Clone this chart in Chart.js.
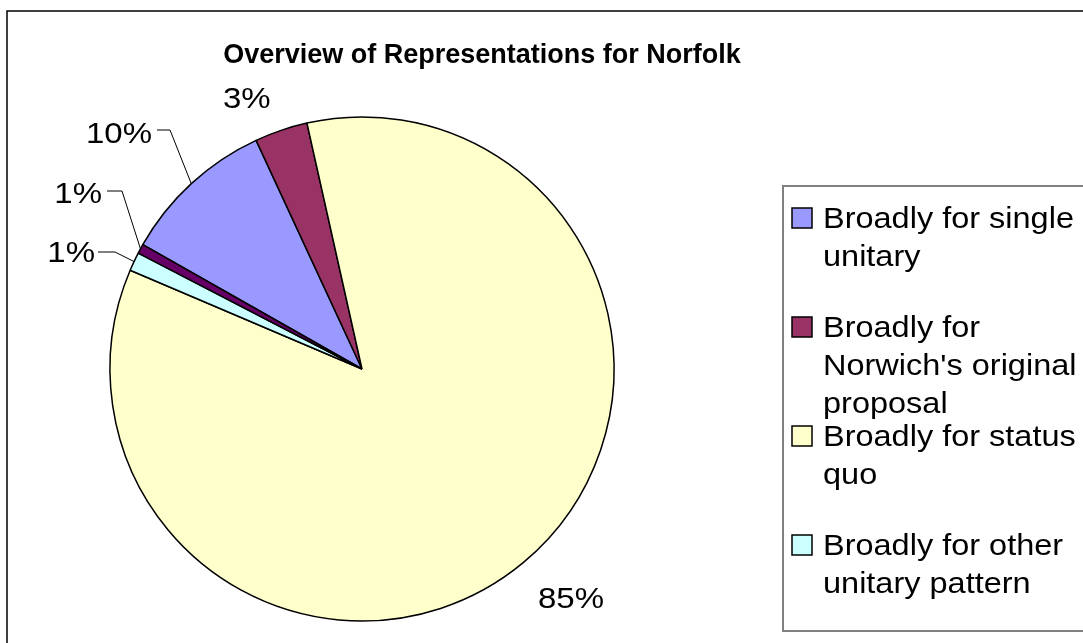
<!DOCTYPE html>
<html>
<head>
<meta charset="utf-8">
<title>Overview of Representations for Norfolk</title>
<script src="https://cdn.jsdelivr.net/npm/chart.js@4/dist/chart.umd.min.js"></script>
<style>
  html, body { margin: 0; padding: 0; background: #fff; }
  #wrap { width: 1083px; height: 643px; position: relative; }
</style>
</head>
<body>
<div id="wrap"><canvas id="myChart" width="1083" height="643"></canvas></div>
<script>
// chart data
var chartTitle = "Overview of Representations for Norfolk";
var categories = ["Broadly for single unitary", "Broadly for Norwich's original proposal",
                  "Broadly for status quo", "Broadly for other unitary pattern", "Other views"];
var legendLines = [["Broadly for single", "unitary"],
                   ["Broadly for", "Norwich's original", "proposal"],
                   ["Broadly for status", "quo"],
                   ["Broadly for other", "unitary pattern"],
                   ["Other views"]];
var shares = [9.9, 3.4, 85.0, 1.2, 0.6];
var sliceColors = ["#9999FF", "#993366", "#FFFFCC", "#CCFFFF", "#660066"];

// where the percent labels sit (style only)
var labelPos = [
  { x: 152, y: 143, align: "right", leader: [[157, 130], [170, 130]] },
  { x: 223, y: 108, align: "left" },
  { x: 538, y: 608, align: "left" },
  { x: 95,  y: 262, align: "right", leader: [[98, 252], [115, 252]] },
  { x: 102, y: 203, align: "right", leader: [[107, 191], [122, 191]] }
];

var FONT = "'Liberation Sans', Arial, sans-serif";

function scaledText(ctx, text, x, y, sx, align) {
  ctx.save();
  ctx.translate(x, y);
  ctx.scale(sx, 1);
  ctx.textAlign = align;
  ctx.fillText(text, 0, 0);
  ctx.restore();
}

var decorPlugin = {
  id: "decor",
  afterDraw: function(chart) {
    var ctx = chart.ctx;
    var meta = chart.getDatasetMeta(0);
    var data = chart.data.datasets[0].data;
    var total = data.reduce(function(a, b) { return a + b; }, 0);

    ctx.save();
    // outer frame
    ctx.strokeStyle = "#000";
    ctx.lineWidth = 1.5;
    ctx.beginPath();
    ctx.moveTo(7, 660);
    ctx.lineTo(7, 11);
    ctx.lineTo(1100, 11);
    ctx.stroke();

    // title
    ctx.fillStyle = "#000";
    ctx.font = "bold 27px " + FONT;
    ctx.textBaseline = "alphabetic";
    ctx.textAlign = "center";
    ctx.fillText(chartTitle, 482, 63);

    // percent labels and leaders
    ctx.font = "30px " + FONT;
    meta.data.forEach(function(arc, i) {
      var p = labelPos[i];
      var pct = Math.round(data[i] / total * 100) + "%";
      scaledText(ctx, pct, p.x, p.y, 1.1, p.align);
      if (p.leader) {
        var mid = (arc.startAngle + arc.endAngle) / 2;
        var ex = arc.x + Math.cos(mid) * arc.outerRadius;
        var ey = arc.y + Math.sin(mid) * arc.outerRadius;
        ctx.strokeStyle = "#000";
        ctx.lineWidth = 1;
        ctx.beginPath();
        ctx.moveTo(p.leader[0][0], p.leader[0][1]);
        ctx.lineTo(p.leader[1][0], p.leader[1][1]);
        ctx.lineTo(ex, ey);
        ctx.stroke();
      }
    });

    // legend box
    ctx.strokeStyle = "#808080";
    ctx.lineWidth = 2;
    ctx.strokeRect(783, 186, 400, 445);

    ctx.font = "29px " + FONT;
    ctx.fillStyle = "#000";
    for (var i = 0; i < legendLines.length; i++) {
      var base = 228 + i * 109;
      if (base > 600) break;
      ctx.fillStyle = sliceColors[i];
      ctx.fillRect(792, base - 20, 20, 20);
      ctx.strokeStyle = "#000";
      ctx.lineWidth = 1.5;
      ctx.strokeRect(792, base - 20, 20, 20);
      ctx.fillStyle = "#000";
      legendLines[i].forEach(function(line, k) {
        scaledText(ctx, line, 823, base + k * 38, 1.12, "left");
      });
    }
    ctx.restore();
  }
};

var ctx = document.getElementById("myChart").getContext("2d");
var myChart = new Chart(ctx, {
  type: "pie",
  data: {
    labels: categories,
    datasets: [{
      data: shares,
      backgroundColor: sliceColors,
      borderColor: "#000",
      borderWidth: 1.5
    }]
  },
  options: {
    responsive: false,
    animation: false,
    events: [],
    rotation: -60.45,
    layout: { padding: { left: 109.25, right: 468.25, top: 116.25, bottom: 21.25 } },
    plugins: {
      legend: { display: false },
      title: { display: false },
      tooltip: { enabled: false }
    }
  },
  plugins: [decorPlugin]
});
</script>
</body>
</html>
